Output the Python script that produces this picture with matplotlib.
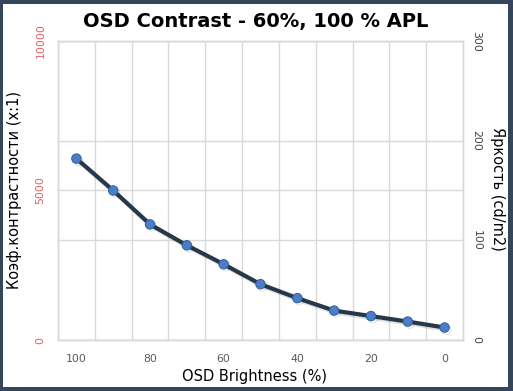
import matplotlib
matplotlib.use("Agg")
import matplotlib.pyplot as plt
import matplotlib.patheffects as pe
from matplotlib.patches import Rectangle
import numpy as np

categories = [100, 90, 80, 70, 60, 50, 40, 30, 20, 10, 0]
brightness = [182, 150, 116, 95, 76, 56, 42, 29.5, 24, 18.5, 12.5]
xtick_labels = ["100", "80", "60", "40", "20", "0"]
left_ticks = [0, 5000, 10000]
right_ticks = [0, 100, 200, 300]

W, H = 513, 391
fig = plt.figure(figsize=(W / 100, H / 100), dpi=100, facecolor="#36465a")
bg = Rectangle((3 / W, 4 / H), (508 - 3) / W, (387 - 4) / H,
               transform=fig.transFigure, facecolor="white",
               edgecolor="none", zorder=-10)
fig.patches.append(bg)

x0, x1 = 58 / W, 463 / W
y0, y1 = 1 - 340 / H, 1 - 41 / H
ax = fig.add_axes([x0, y0, x1 - x0, y1 - y0])
ax2 = ax.twinx()
ax.set_facecolor("white")

grid_c = "#d9d9d9"
n = len(categories)
xs = np.arange(n)
ax.set_xlim(-0.5, n - 0.5)
ax.set_ylim(0, 10000)
ax2.set_ylim(0, 300)

ax.set_xticks(np.arange(-0.5, n, 1.0), minor=True)
ax.set_xticks(xs[::2])
ax.set_xticklabels(xtick_labels)
ax.grid(True, which="minor", axis="x", color=grid_c, lw=1)
ax.tick_params(axis="x", which="both", length=0, pad=10, labelsize=7.8, labelcolor="#595959")

ax.set_yticks(left_ticks)
ax.set_yticklabels([str(v) for v in left_ticks], rotation=90, va="center")
ax.tick_params(axis="y", length=0, pad=9, labelsize=7.8, labelcolor="#e06060")
ax.grid(True, which="major", axis="y", color=grid_c, lw=1)

ax2.set_yticks(right_ticks)
ax2.set_yticklabels([str(v) for v in right_ticks], rotation=270, va="center")
ax2.tick_params(axis="y", length=0, pad=6, labelsize=7.8, labelcolor="#404040")
ax2.grid(True, which="major", axis="y", color=grid_c, lw=1)

for a in (ax, ax2):
    for s in a.spines.values():
        s.set_color(grid_c)
        s.set_linewidth(1)

ax2.plot(xs, brightness, color="#27384a", lw=3.0, marker="o", ms=6.8,
         mfc="#4a7fc8", mec="#2f5f9e", mew=0.7, solid_capstyle="round",
         path_effects=[pe.SimpleLineShadow(offset=(1.2, -1.5), alpha=0.12), pe.Normal()],
         zorder=5)

fig.text(256 / W, 1 - 22 / H, "OSD Contrast - 60%, 100 % APL", ha="center", va="center",
         fontsize=14, fontweight="bold", color="black")
fig.text(15 / W, 1 - 190 / H, "Коэф.контрастности (x:1)", rotation=90, ha="center",
         va="center", fontsize=10.5, color="black")
fig.text(498 / W, 1 - 189 / H, "Яркость (cd/m2)", rotation=270, ha="center",
         va="center", fontsize=10.5, color="black")
fig.text(255 / W, 1 - 376 / H, "OSD Brightness (%)", ha="center", va="center",
         fontsize=10.5, color="black")

fig.savefig("out.png", dpi=100, facecolor=fig.get_facecolor())
